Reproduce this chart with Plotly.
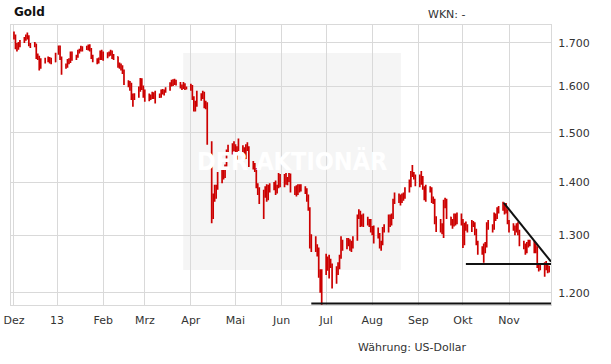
import math
import pandas as pd
import plotly.graph_objects as go

# ---------------- data ----------------
holidays = ["2012-12-25", "2013-01-01"]
dates = [d for d in pd.bdate_range("2012-12-03", "2013-11-28") if d.strftime("%Y-%m-%d") not in holidays]

opens = [
    1713,1718,1695,1690,1698,1704,1710,1714,1716,1696,1695,1697,1667,1666,1645,1657,1660,1663,1660,1656,
    1675,1688,1665,1648,1646,1660,1655,1676,1662,1668,1680,1683,1688,1686,1690,1692,1685,1668,1658,1656,1662,1678,
    1663,1668,1675,1676,1678,1670,1667,1648,1650,1645,1635,1609,1608,1605,1578,1575,1582,1592,1614,1598,
    1580,1576,1573,1575,1583,1577,1578,1577,1590,1588,1590,1593,1604,1611,1607,1613,1607,1600,1597,1605,1596,
    1597,1600,1575,1553,1560,1580,1575,1586,1558,1563,1478,1350,1368,1372,1392,1402,1424,1412,1431,1462,1465,1470,
    1474,1446,1468,1470,1468,1450,1473,1469,1436,1434,1425,1393,1387,1364,1382,1378,1370,1391,1388,1395,1380,1391,1413,
    1394,1411,1398,1404,1414,1384,1386,1378,1392,1387,1389,1383,1366,1350,1282,1296,1280,1275,1232,1210,
    1234,1255,1242,1251,1248,1222,1235,1246,1262,1285,1283,1285,1290,1278,1284,1294,1335,1343,1320,1335,1322,1328,1324,
    1313,1310,1311,1302,1283,1285,1310,1312,1333,1322,1336,1364,1374,1366,1372,1368,1376,1385,1393,1416,1418,1411,
    1396,1412,1410,1390,1370,1388,1386,1363,1366,1330,1310,1318,1308,1364,1365,1333,1323,1318,1338,1322,1338,
    1327,1287,1318,1317,1310,1323,1322,1307,1286,1272,1274,1273,1281,1320,1315,1316,1336,1334,1347,1352,1353,1345,1345,
    1324,1316,1315,1310,1318,1308,1285,1280,1272,1282,1287,1288,1273,1275,1244,1243,1244,1250,1242,1238,
]
highs = [
    1727,1720,1700,1702,1707,1714,1720,1725,1718,1700,1702,1698,1675,1670,1664,1665,1668,1667,1665,1677,
    1694,1694,1668,1652,1662,1664,1680,1680,1672,1684,1686,1693,1692,1693,1696,1697,1688,1672,1664,1666,1682,1684,
    1680,1678,1680,1684,1682,1674,1668,1654,1652,1648,1638,1614,1612,1608,1584,1585,1600,1619,1618,1602,
    1593,1584,1582,1588,1587,1590,1584,1593,1594,1593,1598,1609,1615,1616,1617,1615,1610,1604,1610,1607,1600,
    1606,1603,1578,1568,1590,1585,1590,1588,1568,1565,1482,1378,1395,1395,1420,1430,1428,1435,1465,1475,1478,1482,
    1476,1472,1488,1474,1470,1476,1480,1472,1442,1438,1428,1398,1390,1385,1392,1396,1395,1398,1400,1403,1395,1418,1416,
    1416,1418,1410,1418,1417,1392,1394,1396,1396,1396,1392,1388,1376,1352,1302,1298,1284,1278,1240,1240,
    1267,1262,1265,1258,1250,1245,1252,1265,1298,1292,1295,1295,1293,1290,1298,1338,1348,1345,1338,1340,1334,1330,1330,
    1317,1318,1314,1304,1290,1315,1320,1338,1338,1340,1368,1380,1378,1376,1378,1380,1390,1405,1422,1434,1420,1415,
    1415,1422,1412,1392,1395,1392,1390,1372,1368,1335,1330,1322,1366,1370,1368,1334,1330,1340,1340,1342,1340,
    1330,1323,1325,1320,1328,1326,1324,1312,1290,1280,1285,1288,1324,1328,1320,1342,1340,1352,1354,1362,1358,1360,1348,
    1328,1322,1318,1322,1324,1310,1290,1285,1288,1292,1292,1290,1285,1280,1250,1250,1252,1254,1248,1246,
]
lows = [
    1708,1685,1680,1684,1690,1700,1705,1708,1692,1688,1690,1662,1660,1636,1640,1652,1655,1652,1650,1655,
    1672,1660,1626,1640,1642,1650,1653,1658,1660,1665,1675,1680,1680,1683,1682,1680,1662,1655,1650,1652,1660,1660,
    1658,1664,1668,1670,1662,1660,1642,1640,1636,1628,1603,1598,1590,1570,1555,1570,1575,1588,1592,1575,
    1566,1567,1570,1572,1572,1562,1574,1575,1582,1580,1586,1590,1600,1601,1603,1602,1595,1592,1594,1592,1593,
    1590,1570,1545,1545,1555,1568,1572,1552,1550,1475,1322,1330,1362,1368,1385,1398,1405,1408,1428,1455,1455,1462,
    1442,1444,1462,1460,1445,1446,1462,1430,1425,1420,1388,1375,1358,1330,1370,1362,1365,1380,1384,1375,1378,1388,1390,
    1390,1395,1394,1400,1380,1375,1372,1375,1380,1382,1377,1362,1345,1276,1270,1270,1262,1225,1200,1180,
    1230,1237,1224,1242,1207,1215,1230,1240,1258,1272,1275,1280,1272,1270,1276,1290,1330,1315,1316,1315,1318,1315,1305,
    1300,1285,1294,1276,1272,1282,1305,1305,1315,1318,1330,1358,1360,1355,1360,1364,1368,1380,1390,1410,1405,1392,
    1390,1395,1385,1365,1362,1380,1360,1358,1320,1306,1305,1302,1295,1350,1330,1318,1312,1316,1318,1320,1318,
    1277,1282,1308,1305,1306,1315,1300,1282,1265,1265,1251,1268,1278,1310,1305,1310,1326,1330,1340,1345,1338,1340,1320,
    1305,1308,1300,1305,1300,1280,1275,1265,1268,1278,1280,1268,1268,1242,1236,1238,1227,1238,1233,1234,
]
closes = [
    1718,1695,1690,1698,1704,1710,1714,1716,1696,1695,1697,1667,1666,1645,1657,1660,1663,1660,1656,1675,
    1688,1665,1648,1646,1660,1655,1676,1662,1668,1680,1683,1688,1686,1690,1692,1685,1668,1658,1656,1662,1678,1663,
    1668,1675,1676,1678,1670,1667,1648,1650,1645,1635,1609,1608,1605,1578,1575,1582,1592,1614,1598,1580,
    1576,1573,1575,1583,1577,1578,1577,1590,1588,1590,1593,1604,1611,1607,1613,1607,1600,1597,1605,1596,1597,
    1600,1575,1553,1560,1580,1575,1586,1558,1563,1478,1350,1368,1372,1392,1402,1424,1412,1431,1462,1465,1470,1474,
    1446,1468,1470,1468,1450,1473,1469,1436,1434,1425,1393,1387,1364,1382,1378,1370,1391,1388,1395,1380,1391,1413,1394,
    1411,1398,1404,1414,1384,1386,1378,1392,1387,1389,1383,1366,1350,1282,1296,1280,1275,1232,1210,1234,
    1255,1242,1251,1248,1222,1235,1246,1262,1285,1283,1285,1290,1278,1284,1294,1335,1343,1320,1335,1322,1328,1324,1313,
    1310,1311,1302,1283,1285,1310,1312,1333,1322,1336,1364,1374,1366,1372,1368,1376,1385,1393,1416,1418,1411,1396,
    1412,1410,1390,1370,1388,1386,1363,1366,1330,1310,1318,1308,1364,1365,1333,1323,1318,1338,1322,1338,1327,
    1287,1318,1317,1310,1323,1322,1307,1286,1272,1274,1273,1281,1320,1315,1316,1336,1334,1347,1352,1353,1345,1345,1324,
    1316,1315,1310,1318,1308,1285,1280,1272,1282,1287,1288,1273,1275,1244,1243,1244,1250,1242,1238,1240,
]
assert len(dates) == len(opens) == len(highs) == len(lows) == len(closes), (len(dates), len(opens), len(highs), len(lows), len(closes))

# drawn trend lines (dates, prices)
line_low_x = ["2013-06-21", "2013-11-29 06:00"]
line_low_y = [1182, 1182]
line_support_x = ["2013-10-03", "2013-11-29 06:00"]
line_support_y = [1249, 1249]
line_trend_x = ["2013-10-28 12:00", "2013-11-29 06:00"]
line_trend_y = [1360, 1253]

x_tickvals = ["2012-12-03", "2013-01-01", "2013-02-01", "2013-03-01", "2013-04-01", "2013-05-01",
              "2013-06-01", "2013-07-01", "2013-08-01", "2013-09-01", "2013-10-01", "2013-11-01"]
x_ticktext = ["Dez", "13", "Feb", "Mrz", "Apr", "Mai", "Jun", "Jul", "Aug", "Sep", "Okt", "Nov"]
y_tickvals = [1200, 1300, 1400, 1500, 1600, 1700]
y_ticktext = ["1.200", "1.300", "1.400", "1.500", "1.600", "1.700"]

# ---------------- figure ----------------
FONT = "DejaVu Sans"
RED = "#cc0000"
GRID = "#d9d9d9"

fig = go.Figure()
fig.add_trace(go.Ohlc(
    x=dates, open=opens, high=highs, low=lows, close=closes,
    increasing=dict(line=dict(color=RED, width=1.7)),
    decreasing=dict(line=dict(color=RED, width=1.7)),
    tickwidth=0.5, hoverinfo="skip", showlegend=False,
))
for lx, ly in [(line_low_x, line_low_y), (line_support_x, line_support_y), (line_trend_x, line_trend_y)]:
    fig.add_trace(go.Scatter(x=lx, y=ly, mode="lines", line=dict(color="#111111", width=2),
                             hoverinfo="skip", showlegend=False, cliponaxis=False))

fig.update_layout(
    width=611, height=364,
    margin=dict(l=11, r=60, t=25, b=59, autoexpand=False),
    paper_bgcolor="white", plot_bgcolor="rgba(0,0,0,0)",
    font=dict(family=FONT, size=11, color="#333333"),
    showlegend=False, hovermode=False,
    xaxis=dict(
        type="date", range=["2012-12-01", "2013-11-29 06:00"],
        rangeslider=dict(visible=False), automargin=False,
        tickmode="array", tickvals=x_tickvals, ticktext=x_ticktext,
        ticklabeloverflow="allow",
        showgrid=True, gridcolor=GRID, gridwidth=1,
        showline=True, linecolor=GRID, linewidth=1, mirror=True,
        ticks="", ticklabelstandoff=5, zeroline=False,
        tickfont=dict(family=FONT, size=11, color="#333333"),
    ),
    yaxis=dict(
        type="log", side="right", automargin=False,
        range=[math.log10(1179.5), math.log10(1743)],
        tickmode="array", tickvals=y_tickvals, ticktext=y_ticktext,
        showgrid=True, gridcolor=GRID, gridwidth=1,
        showline=True, linecolor=GRID, linewidth=1, mirror=True,
        ticks="", ticklabelstandoff=4, zeroline=False,
        tickfont=dict(family=FONT, size=11, color="#333333"),
    ),
    shapes=[dict(type="rect", xref="paper", yref="paper", x0=0.319, x1=0.722, y0=0.125, y1=0.9,
                 fillcolor="#f5f5f5", line=dict(width=0), layer="below")],
    annotations=[
        dict(text="<b>Gold</b>", xref="paper", yref="paper", x=0.002, y=1.046, xanchor="left", yanchor="middle",
             showarrow=False, font=dict(family=FONT, size=12, color="#111111")),
        dict(text="WKN: -", xref="paper", yref="paper", x=0.807, y=1.039, xanchor="center", yanchor="middle",
             showarrow=False, font=dict(family=FONT, size=11, color="#333333")),
        dict(text="Währung: US-Dollar", xref="paper", yref="paper", x=0.744, y=-0.15, xanchor="center", yanchor="middle",
             showarrow=False, font=dict(family=FONT, size=11, color="#333333")),
        dict(text="<b>DER AKTIONÄR</b>", xref="paper", yref="paper", x=0.52, y=0.514, xanchor="center", yanchor="middle",
             showarrow=False, font=dict(family="DejaVu Sans Condensed", size=25, color="white")),
    ],
)

# remove the browser's default 8px body margin so the figure sits at the page corner
fig.write_html("out.html", config={"displayModeBar": False, "staticPlot": True},
               post_script="document.body.style.margin='0';")
